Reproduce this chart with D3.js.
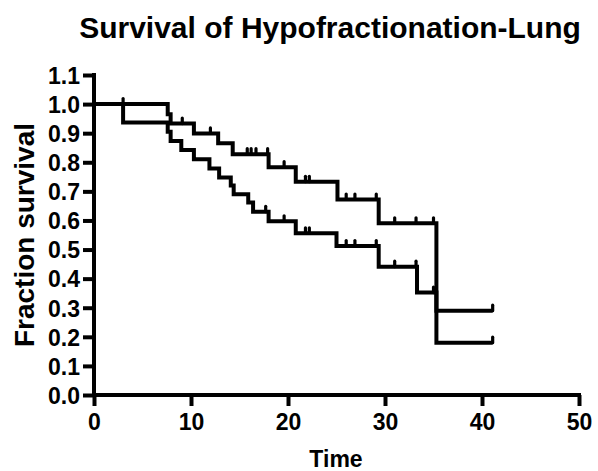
<!DOCTYPE html>
<html>
<head>
<meta charset="utf-8">
<script src="https://cdn.jsdelivr.net/npm/d3@7"></script>
<style>
  body { margin: 0; background: #fff; }
  svg text { font-family: "Liberation Sans", Arial, sans-serif; font-weight: bold; fill: #000; }
</style>
</head>
<body>
<svg id="chart" width="598" height="471"></svg>
<script>
// group A (upper curve): step times and survival fraction after each step
const timeA = [0, 7.6, 7.9, 10.3, 12.8, 14.3, 18.0, 20.8, 25.1, 29.35, 35.3, 41.1];
const survA = [1.0, 0.965, 0.933, 0.899, 0.865, 0.828, 0.783, 0.733, 0.672, 0.590, 0.290, 0.290];
const censorA = [3.0, 9.1, 12.0, 15.8, 16.2, 16.7, 17.9, 19.6, 21.8, 22.2, 26.0, 26.9, 29.1, 31.0, 33.2, 35.0, 41.1];

// group B (lower curve)
const timeB = [0, 3.0, 7.6, 7.9, 9.0, 10.3, 11.9, 12.9, 14.1, 14.4, 15.9, 16.4, 18.0, 20.8, 25.0, 29.35, 33.3, 35.3, 41.1];
const survB = [1.0, 0.937, 0.905, 0.873, 0.842, 0.81, 0.779, 0.748, 0.72, 0.69, 0.662, 0.63, 0.597, 0.556, 0.512, 0.441, 0.352, 0.180, 0.180];
const censorB = [17.7, 19.6, 21.8, 22.2, 26.0, 26.9, 29.1, 31.0, 33.2, 35.0, 41.1];

const xTicks = [0, 10, 20, 30, 40, 50];
const yTicks = [0, 0.1, 0.2, 0.3, 0.4, 0.5, 0.6, 0.7, 0.8, 0.9, 1.0, 1.1];

const svg = d3.select("#chart");
const x = d3.scaleLinear().domain([0, 50]).range([94, 579]);
const y = d3.scaleLinear().domain([0, 1.1]).range([395, 75]);
const SW = 4;

// title
svg.append("text")
  .attr("x", 330).attr("y", 38)
  .attr("text-anchor", "middle")
  .attr("font-size", "30px")
  .text("Survival of Hypofractionation-Lung");

// axes
const xAxis = svg.append("g")
  .attr("transform", `translate(0,${y(0)})`)
  .call(d3.axisBottom(x).tickValues(xTicks).tickFormat(d3.format("d")).tickSize(11).tickPadding(4));
const yAxis = svg.append("g")
  .attr("transform", `translate(${x(0)},0)`)
  .call(d3.axisLeft(y).tickValues(yTicks).tickFormat(d3.format(".1f")).tickSize(11).tickPadding(3));

[xAxis, yAxis].forEach(g => {
  g.select(".domain").attr("stroke", "#000").attr("stroke-width", SW);
  g.selectAll(".tick line").attr("stroke", "#000").attr("stroke-width", SW);
  g.selectAll(".tick text").attr("font-size", "23px").attr("fill", "#000");
});
xAxis.select(".domain").attr("d", `M${x(0) - SW / 2},0H${x(50) + SW / 2}`);
yAxis.select(".domain").attr("d", `M0,${y(1.1) - SW / 2}V${y(0)}`);
xAxis.selectAll(".tick text").attr("dy", "0.85em");
yAxis.selectAll(".tick text").attr("dy", "0.36em");

// axis titles
svg.append("text")
  .attr("x", 336).attr("y", 467)
  .attr("text-anchor", "middle")
  .attr("font-size", "23px")
  .text("Time");
svg.append("text")
  .attr("transform", `translate(34,${(y(0) + y(1.1)) / 2}) rotate(-90)`)
  .attr("text-anchor", "middle")
  .attr("font-size", "28px")
  .text("Fraction survival");

// survival curves
const line = d3.line().x(d => x(d[0])).y(d => y(d[1])).curve(d3.curveStepAfter);
const curves = [
  { t: timeA, s: survA, c: censorA },
  { t: timeB, s: survB, c: censorB }
];

function survAt(t, times, surv) {
  let v = surv[0];
  for (let i = 0; i < times.length; i++) if (times[i] <= t) v = surv[i];
  return v;
}

curves.forEach(cv => {
  svg.append("path")
    .datum(cv.t.map((t, i) => [t, cv.s[i]]))
    .attr("d", line)
    .attr("fill", "none")
    .attr("stroke", "#000")
    .attr("stroke-width", SW)
    .attr("stroke-linejoin", "miter");

  // censor ticks
  svg.selectAll(null)
    .data(cv.c).enter().append("line")
    .attr("x1", d => x(d)).attr("x2", d => x(d))
    .attr("y1", d => y(survAt(d, cv.t, cv.s)))
    .attr("y2", d => y(survAt(d, cv.t, cv.s)) - 5.5)
    .attr("stroke", "#000")
    .attr("stroke-width", SW - 0.8)
    .attr("stroke-linecap", "round");
});
</script>
</body>
</html>
